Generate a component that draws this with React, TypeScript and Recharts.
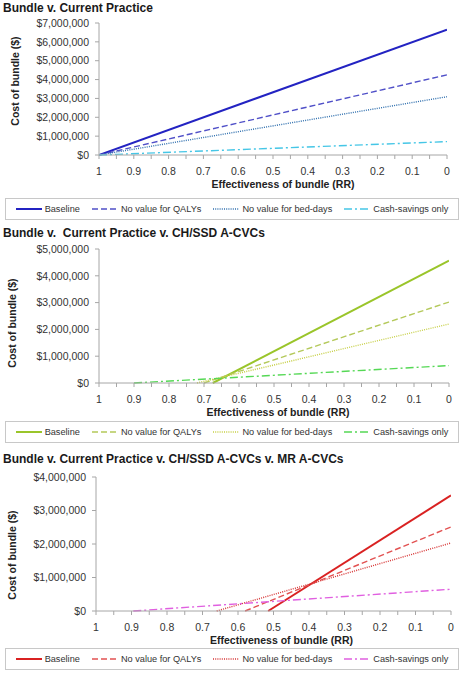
import { LineChart, Line, XAxis, YAxis, Label } from "recharts";

// effectiveness of bundle (relative risk), axis runs 1 -> 0
const RR_TICKS = [1, 0.95, 0.9, 0.85, 0.8, 0.75, 0.7, 0.65, 0.6, 0.55, 0.5, 0.45, 0.4, 0.35, 0.3, 0.25, 0.2, 0.15, 0.1, 0.05, 0];

const COST_TICKS_1 = [0, 1000000, 2000000, 3000000, 4000000, 5000000, 6000000, 7000000];
const COST_TICKS_2 = [0, 1000000, 2000000, 3000000, 4000000, 5000000];
const COST_TICKS_3 = [0, 1000000, 2000000, 3000000, 4000000];

const SERIES_NAMES = ["Baseline", "No value for QALYs", "No value for bed-days", "Cash-savings only"];

// Bundle v. Current Practice
const p1Baseline = [{ rr: 1, cost: 0 }, { rr: 0, cost: 6650000 }];
const p1Qalys = [{ rr: 1, cost: 0 }, { rr: 0, cost: 4250000 }];
const p1BedDays = [{ rr: 1, cost: 0 }, { rr: 0, cost: 3090000 }];
const p1Cash = [{ rr: 1, cost: 0 }, { rr: 0, cost: 710000 }];

// Bundle v. Current Practice v. CH/SSD A-CVCs
const p2Baseline = [{ rr: 0.675, cost: 0 }, { rr: 0, cost: 4570000 }];
const p2Qalys = [{ rr: 0.7, cost: 0 }, { rr: 0, cost: 3020000 }];
const p2BedDays = [{ rr: 0.72, cost: 0 }, { rr: 0, cost: 2200000 }];
const p2Cash = [{ rr: 0.9, cost: 0 }, { rr: 0, cost: 650000 }];

// Bundle v. Current Practice v. CH/SSD A-CVCs v. MR A-CVCs
const p3Baseline = [{ rr: 0.515, cost: 0 }, { rr: 0, cost: 3450000 }];
const p3Qalys = [{ rr: 0.58, cost: 0 }, { rr: 0, cost: 2510000 }];
const p3BedDays = [{ rr: 0.66, cost: 0 }, { rr: 0, cost: 2030000 }];
const p3Cash = [{ rr: 0.895, cost: 0 }, { rr: 0, cost: 650000 }];

const FONT = "'Liberation Sans', Arial, sans-serif";
const AXIS_GREY = "#a6a6a6";

const STYLES = [
  { width: 2, dash: undefined },
  { width: 1.4, dash: "6 3" },
  { width: 1.4, dash: "1 1.2" },
  { width: 1.4, dash: "8 3 2 3" },
];

const fmtCost = (v: number) => "$" + v.toLocaleString("en-US");

function RRTick(props: any) {
  const { x, y, payload } = props;
  const v = payload.value;
  if (Math.round(v * 100) % 10 !== 0) return null;
  return (
    <text x={x} y={y} dy="0.71em" textAnchor="middle" fontSize={10.5} fill="#333">
      {String(Number(v.toFixed(1)))}
    </text>
  );
}

function YTitle(props: any) {
  const { viewBox, shift, cx } = props;
  const cy = viewBox.y + viewBox.height / 2 + shift;
  return (
    <text
      x={cx}
      y={cy}
      transform={`rotate(-90 ${cx} ${cy})`}
      textAnchor="middle"
      dominantBaseline="central"
      fontSize={10.5}
      fontWeight="bold"
      fill="#222"
    >
      Cost of bundle ($)
    </text>
  );
}

function XTitle(props: any) {
  const { viewBox, shift } = props;
  return (
    <text
      x={viewBox.x + viewBox.width / 2 + shift}
      y={viewBox.y + 33}
      textAnchor="middle"
      fontSize={10.5}
      fontWeight="bold"
      fill="#222"
    >
      Effectiveness of bundle (RR)
    </text>
  );
}

function LegendBox({ top, colors }: { top: number; colors: string[] }) {
  return (
    <div
      style={{
        position: "absolute",
        left: 5,
        top,
        width: 454,
        height: 22,
        boxSizing: "border-box",
        border: "1px solid #c8c8c8",
        display: "flex",
        alignItems: "center",
        justifyContent: "center",
        fontSize: 9.2,
        color: "#333",
        whiteSpace: "nowrap",
      }}
    >
      {SERIES_NAMES.map((name, i) => (
        <div
          key={name}
          style={{ display: "flex", alignItems: "center", flexShrink: 0, marginRight: i < 3 ? 12 : 0 }}
        >
          <svg width={26} height={6} style={{ flexShrink: 0 }}>
            <line
              x1={0}
              y1={3}
              x2={26}
              y2={3}
              stroke={colors[i]}
              strokeWidth={STYLES[i].width}
              strokeDasharray={STYLES[i].dash}
            />
          </svg>
          <span style={{ marginLeft: 3 }}>{name}</span>
        </div>
      ))}
    </div>
  );
}

interface PanelProps {
  title: string;
  titleTop: number;
  chartTop: number;
  height: number;
  yWidth: number;
  right: number;
  yMax: number;
  yTicks: number[];
  series: { name: string; data: { rr: number; cost: number }[] }[];
  colors: string[];
  legendTop: number;
  yTitleShift: number;
  yTitleX: number;
  xTitleShift: number;
}

function Panel(p: PanelProps) {
  return (
    <>
      <div
        style={{
          position: "absolute",
          left: 3,
          top: p.titleTop,
          fontSize: 12,
          lineHeight: "14px",
          fontWeight: "bold",
          color: "#1a1a1a",
          whiteSpace: "pre",
          zIndex: 2,
        }}
      >
        {p.title}
      </div>
      <div style={{ position: "absolute", left: 0, top: p.chartTop }}>
        <LineChart width={470} height={p.height} margin={{ top: 23, right: p.right, left: 0, bottom: 0 }}>
          <XAxis
            type="number"
            dataKey="rr"
            domain={[0, 1]}
            reversed
            ticks={RR_TICKS}
            interval={0}
            tick={<RRTick />}
            tickSize={4}
            tickMargin={9}
            stroke={AXIS_GREY}
            height={37}
            allowDataOverflow
          >
            <Label content={<XTitle shift={p.xTitleShift} />} />
          </XAxis>
          <YAxis
            type="number"
            domain={[0, p.yMax]}
            ticks={p.yTicks}
            interval={0}
            width={p.yWidth}
            tickSize={4}
            tickMargin={6}
            tickFormatter={fmtCost}
            tick={{ fill: "#333", fontSize: 10.5 }}
            stroke={AXIS_GREY}
          >
            <Label content={<YTitle shift={p.yTitleShift} cx={p.yTitleX} />} />
          </YAxis>
          {p.series.map((s, i) => (
            <Line
              key={s.name}
              data={s.data}
              dataKey="cost"
              name={s.name}
              type="linear"
              stroke={p.colors[i]}
              strokeWidth={STYLES[i].width}
              strokeDasharray={STYLES[i].dash}
              dot={false}
              activeDot={false}
              isAnimationActive={false}
            />
          ))}
        </LineChart>
      </div>
      <LegendBox top={p.legendTop} colors={p.colors} />
    </>
  );
}

const BLUES = ["#2323c2", "#5050c8", "#2f6fae", "#45c6e6"];
const GREENS = ["#9ac52a", "#b4c95a", "#c6cf45", "#55d855"];
const REDS = ["#d92121", "#e25252", "#d63434", "#e060e0"];

export default function App() {
  return (
    <div
      style={{
        position: "absolute",
        left: 0,
        top: 0,
        width: 470,
        height: 674,
        background: "#fff",
        fontFamily: FONT,
        overflow: "hidden",
      }}
    >
      <Panel
        title="Bundle v. Current Practice"
        titleTop={1}
        chartTop={0}
        height={192}
        yWidth={99}
        right={23}
        yMax={7000000}
        yTicks={COST_TICKS_1}
        series={[
          { name: SERIES_NAMES[0], data: p1Baseline },
          { name: SERIES_NAMES[1], data: p1Qalys },
          { name: SERIES_NAMES[2], data: p1BedDays },
          { name: SERIES_NAMES[3], data: p1Cash },
        ]}
        colors={BLUES}
        legendTop={198}
        yTitleShift={-8}
        yTitleX={15}
        xTitleShift={10}
      />
      <Panel
        title="Bundle v.  Current Practice v. CH/SSD A-CVCs"
        titleTop={226}
        chartTop={226}
        height={194}
        yWidth={99}
        right={21}
        yMax={5000000}
        yTicks={COST_TICKS_2}
        series={[
          { name: SERIES_NAMES[0], data: p2Baseline },
          { name: SERIES_NAMES[1], data: p2Qalys },
          { name: SERIES_NAMES[2], data: p2BedDays },
          { name: SERIES_NAMES[3], data: p2Cash },
        ]}
        colors={GREENS}
        legendTop={421}
        yTitleShift={7}
        yTitleX={12}
        xTitleShift={4}
      />
      <Panel
        title="Bundle v. Current Practice v. CH/SSD A-CVCs v. MR A-CVCs"
        titleTop={452}
        chartTop={454}
        height={194}
        yWidth={96}
        right={19}
        yMax={4000000}
        yTicks={COST_TICKS_3}
        series={[
          { name: SERIES_NAMES[0], data: p3Baseline },
          { name: SERIES_NAMES[1], data: p3Qalys },
          { name: SERIES_NAMES[2], data: p3BedDays },
          { name: SERIES_NAMES[3], data: p3Cash },
        ]}
        colors={REDS}
        legendTop={648}
        yTitleShift={11}
        yTitleX={12}
        xTitleShift={8}
      />
    </div>
  );
}
